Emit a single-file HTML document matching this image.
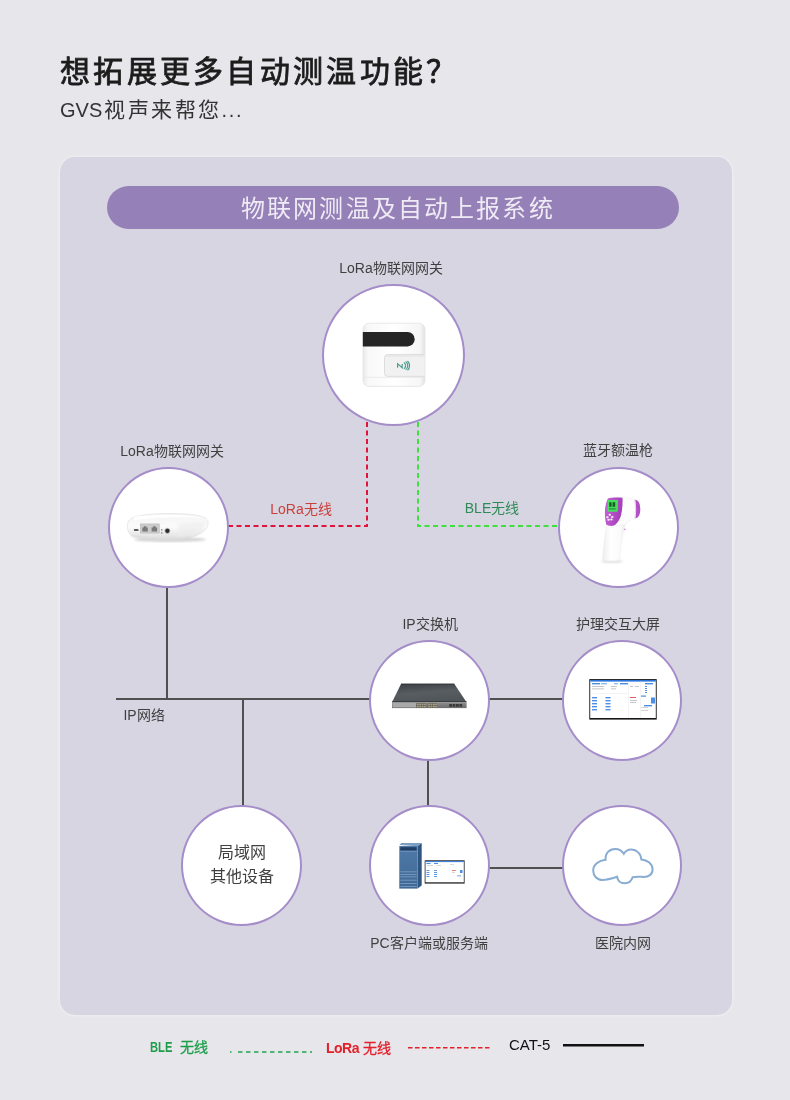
<!DOCTYPE html>
<html lang="zh-CN">
<head>
<meta charset="utf-8">
<style>
*{margin:0;padding:0;box-sizing:border-box}
html,body{width:790px;height:1100px;overflow:hidden}
body{background:#e7e6eb;font-family:"Liberation Sans",sans-serif;color:#333;position:relative}
.a{position:absolute;white-space:nowrap}
body>div{will-change:transform}
#h1{left:60px;top:57px;font-size:30px;line-height:30px;letter-spacing:3.3px;color:#1c1c1c;-webkit-text-stroke:0.8px #1c1c1c}
#h2{left:60px;top:100px;font-size:20px;line-height:20px;color:#333}
#panel{left:60px;top:157px;width:672px;height:858px;border-radius:15px;background:#d8d5e2;box-shadow:0 0 3px 1px rgba(255,255,255,0.35)}
#bar{left:107px;top:186px;width:572px;height:43px;border-radius:22px;background:#9581b8}
#bart{left:241px;top:197px;font-size:24px;line-height:24px;letter-spacing:2.14px;color:#efebf5}
.c{position:absolute;border-radius:50%;background:#fff;border:2px solid #a58dca}
.lb{position:absolute;font-size:14px;line-height:14px;color:#404040;white-space:nowrap;width:200px;text-align:center}
.lg{font-size:14px;line-height:14px}
</style>
</head>
<body>
<div class="a" id="h1">想拓展更多自动测温功能？</div>
<div class="a" id="h2"><span>GVS</span><span style="letter-spacing:2.5px;margin-left:1.8px;font-size:21px">视声来帮您</span><span style="letter-spacing:1.7px">...</span></div>
<div class="a" id="panel"></div>
<div class="a" id="bar"></div>
<div class="a" id="bart">物联网测温及自动上报系统</div>

<!-- lines -->
<svg class="a" style="left:0;top:0" width="790" height="1100">
  <path d="M367 422 V526 H228" fill="none" stroke="#e0133a" stroke-width="2" stroke-dasharray="5 3.5"/>
  <path d="M418 422 V526 H558" fill="none" stroke="#3ee03e" stroke-width="2" stroke-dasharray="5 3.5"/>
  <g stroke="#505050" stroke-width="2" fill="none">
    <path d="M167 588 V699"/>
    <path d="M116 699 H370"/>
    <path d="M489 699 H562"/>
    <path d="M243 699 V806"/>
    <path d="M428 760 V806"/>
    <path d="M489 868 H563"/>
  </g>
</svg>

<!-- circles -->
<div class="c" style="left:322px;top:284.3px;width:142.6px;height:142px"></div>
<div class="c" style="left:107.8px;top:467.2px;width:120.6px;height:120.8px"></div>
<div class="c" style="left:557.8px;top:467.2px;width:120.6px;height:120.8px"></div>
<div class="c" style="left:368.9px;top:639.8px;width:120.9px;height:120.8px"></div>
<div class="c" style="left:562.2px;top:639.8px;width:120.3px;height:120.8px"></div>
<div class="c" style="left:181.3px;top:804.8px;width:120.7px;height:120.8px"></div>
<div class="c" style="left:368.9px;top:804.8px;width:120.7px;height:120.8px"></div>
<div class="c" style="left:562.2px;top:804.8px;width:120.3px;height:120.8px"></div>

<!-- icons -->
<svg class="a" style="left:0;top:0" width="790" height="1100">
<defs>
 <linearGradient id="gwb" x1="0" x2="1" y1="0" y2="0">
  <stop offset="0" stop-color="#e9e9e9"/><stop offset="0.08" stop-color="#f8f8f8"/><stop offset="0.5" stop-color="#ffffff"/><stop offset="0.92" stop-color="#f6f6f6"/><stop offset="1" stop-color="#e2e2e2"/>
 </linearGradient>
 <linearGradient id="puck" x1="0" x2="0" y1="0" y2="1">
  <stop offset="0" stop-color="#f4f4f4"/><stop offset="0.5" stop-color="#fbfbfb"/><stop offset="1" stop-color="#dcdcdc"/>
 </linearGradient>
 <linearGradient id="swt" x1="0" x2="0.3" y1="0" y2="1">
  <stop offset="0" stop-color="#3b3f44"/><stop offset="0.55" stop-color="#585d62"/><stop offset="1" stop-color="#50555a"/>
 </linearGradient>
 <linearGradient id="swf" x1="0" x2="0" y1="0" y2="1">
  <stop offset="0" stop-color="#8e8e8e"/><stop offset="1" stop-color="#6c6c6c"/>
 </linearGradient>
 <linearGradient id="srv" x1="0" x2="0" y1="0" y2="1">
  <stop offset="0" stop-color="#4f79a8"/><stop offset="1" stop-color="#3f6894"/>
 </linearGradient>
 <linearGradient id="thh" x1="0" x2="1" y1="0" y2="0">
  <stop offset="0" stop-color="#eeeeee"/><stop offset="0.35" stop-color="#ffffff"/><stop offset="0.8" stop-color="#fafafa"/><stop offset="1" stop-color="#e6e6e6"/>
 </linearGradient>
 <linearGradient id="thp" x1="0" x2="1" y1="0" y2="0.2">
  <stop offset="0" stop-color="#c266d3"/><stop offset="0.5" stop-color="#b650c8"/><stop offset="1" stop-color="#a43eb8"/>
 </linearGradient>
 <filter id="blur1"><feGaussianBlur stdDeviation="1.2"/></filter>
</defs>

<!-- top gateway -->
<g>
 <rect x="363" y="323.2" width="62" height="63.2" rx="6" fill="url(#gwb)" stroke="#e4e4e4" stroke-width="0.8"/>
 <path d="M362.8 332 H407.5 A7.2 7.2 0 0 1 407.5 346.4 H362.8 Z" fill="#252525"/>
 <path d="M424.6 354.6 H387.5 Q384.5 354.6 384.5 357.6 V373.4 Q384.5 376.4 387.5 376.4 H424.6" fill="#f1f1f1" stroke="#d9d9d9" stroke-width="0.9"/>
 <path d="M386 357 Q386 356 387.5 356 H424" stroke="#e2e2e2" stroke-width="1" fill="none"/>
 <path d="M363.5 377.3 H424.5" stroke="#e6e6e6" stroke-width="0.8"/>
 <g stroke="#4b9f8f" fill="none" stroke-width="1.2">
  <path d="M397.6 367.8 V363.9 L402.2 367.8 V363.9"/>
  <path d="M403.8 362.6 A3.6 3.6 0 0 1 403.8 368.8"/>
  <path d="M405.6 361.6 A5 5 0 0 1 405.6 369.8"/>
  <path d="M407.5 361 A6.4 6.4 0 0 1 407.5 370.4"/>
 </g>
</g>

<!-- left puck gateway -->
<g>
 <ellipse cx="170" cy="539.5" rx="36" ry="2.5" fill="#d4d4d4" filter="url(#blur1)"/>
 <path d="M128.5 521 C 131 515.5, 150 513.4, 172 513.5 C 192 513.7, 205 515.5, 207.8 520.5 C 209.5 526.5, 204.5 532.5, 196 535.8 C 188 538.8, 178 540, 168 540 C 152 540, 138 538.6, 131.5 535.5 C 127 532.5, 126.5 525, 128.5 521 Z" fill="url(#puck)" stroke="#dedede" stroke-width="0.6"/>
 <path d="M134 517 C 150 514.3, 188 514.4, 204 518 C 196 517.4, 186 517.2, 176 517.3 C 160 517.5, 145 518.5, 134 520.5 Z" fill="#ffffff"/>
 <path d="M178 524 C 188 522.5, 199 521.5, 206 522 C 205 528, 199 533, 192 535.5 C 186 537.5, 180 538.2, 176 538.2 C 178.5 534, 179 528, 178 524 Z" fill="#ececec" opacity="0.6" filter="url(#blur1)"/>
 <path d="M131 536 C 145 539, 170 540, 190 537.5" stroke="#d2d2d2" stroke-width="1" fill="none" filter="url(#blur1)"/>
 <rect x="140.3" y="523.9" width="19" height="9.2" fill="#cbcbcb" stroke="#b5b5b5" stroke-width="0.5"/>
 <path d="M142.3 531.6 V527.6 H143.8 V526.3 H146.3 V527.6 H147.8 V531.6 Z" fill="#7a7a7a"/>
 <path d="M151.6 531.6 V527.6 H153.1 V526.3 H155.6 V527.6 H157.1 V531.6 Z" fill="#7a7a7a"/>
 <rect x="133.8" y="529" width="4.8" height="1.9" rx="0.9" fill="#5a5a5a"/>
 <rect x="161" y="529.2" width="1.5" height="1.4" fill="#8a8a8a"/>
 <rect x="161" y="532.2" width="1.5" height="1.4" fill="#8a8a8a"/>
 <circle cx="167.4" cy="530.8" r="2.6" fill="#2e2e2e" stroke="#c9c9c9" stroke-width="0.8"/>
</g>

<!-- thermometer -->
<g>
 <ellipse cx="612" cy="561.5" rx="11" ry="1.6" fill="#e2e2e2" filter="url(#blur1)"/>
 <path d="M607.5 522 L625.5 523 C 622.5 533, 620.5 545, 619.8 560.2 C 614 561.3, 607 561.3, 602.6 560.3 C 603.3 548, 604.5 535, 607.5 522 Z" fill="url(#thh)" stroke="#e8e8e8" stroke-width="0.5"/>
 <path d="M606 520 C 607 510, 608 502, 610 497.8 C 616 496.6, 626 497, 634.5 499.5 C 636 505, 636.2 512, 635.4 518.4 C 631 519.5, 627 521.5, 624.5 525 L 612 526 Z" fill="#fdfdfd" stroke="#ebebeb" stroke-width="0.5"/>
 <path d="M635.2 499.7 C 638.2 500, 640.2 503, 640.3 509 C 640.3 514.5, 638.7 517.8, 635.4 518.4 C 636.4 512, 636.4 505.5, 635.2 499.7 Z" fill="#b24ec6"/>
 <path d="M634.6 499.6 C 635.6 505, 635.8 512, 634.9 518.3" stroke="#e9c4ef" stroke-width="0.8" fill="none"/>
 <path d="M607.9 498.4 C 612 497.3, 618 497.2, 622.5 497.8 C 622.8 504, 622.2 510, 621 515.3 C 619.5 520.5, 616.5 524.8, 613.1 525.8 C 610.5 526.2, 607.5 525.6, 606.2 524.6 C 605 520, 604.8 514, 605 509.5 C 605.5 505, 606.5 501, 607.9 498.4 Z" fill="url(#thp)"/>
 <path d="M607.7 499.9 H618 L617.8 510.4 Q617.7 511.8 616.4 511.8 H608.6 Q607.3 511.8 607.3 510.4 Z" fill="#44e05e"/>
 <rect x="609.2" y="502.2" width="2.4" height="4.6" fill="#1f5a2a"/>
 <rect x="612.6" y="502.2" width="2.6" height="4.6" fill="#1f5a2a"/>
 <rect x="609" y="508.4" width="6.8" height="1" fill="#2b7a3a"/>
 <g fill="#f6eef8">
  <ellipse cx="609.8" cy="514.7" rx="1.3" ry="1"/>
  <ellipse cx="607.4" cy="517.2" rx="1.3" ry="1"/><ellipse cx="612.3" cy="517.1" rx="1.3" ry="1"/>
  <ellipse cx="608.6" cy="519.7" rx="1.3" ry="1"/><ellipse cx="611.4" cy="519.6" rx="1.2" ry="1"/>
 </g>
 <circle cx="624.8" cy="529.4" r="0.8" fill="#c88ad6"/>
</g>

<!-- switch -->
<g>
 <path d="M401 684 H454.4 L466.6 702.3 H392 Z" fill="url(#swt)"/>
 <path d="M401 684 H454.4" stroke="#2c3034" stroke-width="0.9"/>
 <path d="M392.2 701.6 H466.4" stroke="#3a3d40" stroke-width="1.2"/>
 <rect x="392" y="702.3" width="74.6" height="5.8" fill="url(#swf)"/>
 <rect x="392.6" y="703" width="23.6" height="4.4" fill="#a9a9a9"/>
 <rect x="416.4" y="703.2" width="9.6" height="4.6" fill="#5f5a4c"/>
 <rect x="427.8" y="703.2" width="9.2" height="4.6" fill="#5f5a4c"/>
 <g fill="#aaa38e">
  <rect x="416.9" y="703.6" width="1.8" height="1.6"/><rect x="419.3" y="703.6" width="1.8" height="1.6"/><rect x="421.7" y="703.6" width="1.8" height="1.6"/><rect x="424.1" y="703.6" width="1.6" height="1.6"/>
  <rect x="416.9" y="705.8" width="1.8" height="1.6"/><rect x="419.3" y="705.8" width="1.8" height="1.6"/><rect x="421.7" y="705.8" width="1.8" height="1.6"/><rect x="424.1" y="705.8" width="1.6" height="1.6"/>
  <rect x="428.2" y="703.6" width="1.8" height="1.6"/><rect x="430.6" y="703.6" width="1.8" height="1.6"/><rect x="433" y="703.6" width="1.8" height="1.6"/><rect x="435.2" y="703.6" width="1.6" height="1.6"/>
  <rect x="428.2" y="705.8" width="1.8" height="1.6"/><rect x="430.6" y="705.8" width="1.8" height="1.6"/><rect x="433" y="705.8" width="1.8" height="1.6"/><rect x="435.2" y="705.8" width="1.6" height="1.6"/>
 </g>
 <g fill="#3a3a3a">
  <rect x="449.2" y="704" width="2.8" height="2.8"/><rect x="452.6" y="704" width="2.8" height="2.8"/>
  <rect x="456" y="704" width="2.8" height="2.8"/><rect x="459.4" y="704" width="2.8" height="2.8"/>
 </g>
</g>

<!-- nurse screen -->
<g>
 <rect x="589.3" y="679.1" width="67.4" height="40.5" fill="#161616"/>
 <rect x="590.2" y="680" width="65.6" height="38" fill="#ffffff"/>
 <rect x="590.2" y="680" width="65.6" height="1.6" fill="#2b74da"/>
 <g fill="#4a8ee6">
  <rect x="592" y="683" width="8" height="1.4"/><rect x="601" y="683" width="6" height="1.4" opacity="0.6"/>
  <rect x="614" y="683" width="4" height="1.4" opacity="0.6"/><rect x="620" y="683" width="8" height="1.4"/>
  <rect x="645" y="683" width="8" height="1.4"/>
  <rect x="592" y="697" width="5" height="1.4"/><rect x="605.5" y="697" width="5" height="1.4"/>
  <rect x="592" y="700" width="5" height="1.4"/><rect x="605.5" y="700" width="5" height="1.4"/>
  <rect x="592" y="703" width="5" height="1.4"/><rect x="605.5" y="703" width="5" height="1.4"/>
  <rect x="592" y="706" width="5" height="1.4"/><rect x="605.5" y="706" width="5" height="1.4"/>
  <rect x="592" y="709" width="5" height="1.4"/><rect x="605.5" y="709" width="5" height="1.4"/>
  <rect x="641" y="695.5" width="5" height="1.2"/><rect x="651" y="697.5" width="4" height="6"/>
  <rect x="644" y="705" width="8" height="1.4"/>
  <rect x="645" y="686" width="2" height="1"/><rect x="645" y="688" width="2" height="1"/><rect x="645" y="690" width="2" height="1"/><rect x="645" y="692" width="2" height="1"/>
 </g>
 <g fill="#b8b8b8">
  <rect x="592" y="686" width="12" height="0.8"/><rect x="592" y="688.5" width="12" height="0.8"/>
  <rect x="611" y="686" width="6" height="0.8"/><rect x="611" y="688.5" width="5" height="0.8"/>
  <rect x="630" y="686" width="3" height="0.8"/><rect x="635" y="686" width="4" height="0.8"/>
  <rect x="630" y="700" width="7" height="0.8"/><rect x="630" y="702" width="6" height="0.8"/>
  <rect x="641" y="707" width="7" height="0.6"/><rect x="641" y="710" width="7" height="0.6"/>
 </g>
 <rect x="630" y="697" width="6" height="0.9" fill="#e05050"/>
 <g fill="#e8e8e8"><rect x="628.5" y="681.6" width="0.5" height="36"/><rect x="640" y="681.6" width="0.5" height="36"/><rect x="591" y="693.5" width="37" height="0.5"/></g>
</g>

<!-- PC -->
<g>
 <path d="M399.3 845 L401.4 842.9 H421.7 L417.6 846.2 Z" fill="#7c9fc4"/>
 <path d="M417.6 846.2 L421.7 842.9 V885.5 L417.6 888.6 Z" fill="#2f5680"/>
 <rect x="399.3" y="846" width="18.3" height="42.6" fill="url(#srv)"/>
 <rect x="400.3" y="847.2" width="16.3" height="3.2" fill="#1f3f66"/>
 <rect x="400.3" y="851.2" width="16.3" height="0.6" fill="#7ea0c6"/>
 <g fill="#86a8cc">
  <rect x="400.3" y="871.5" width="16.3" height="0.7"/><rect x="400.3" y="874" width="16.3" height="0.7"/>
  <rect x="400.3" y="876.5" width="16.3" height="0.7"/><rect x="400.3" y="879.8" width="16.3" height="0.7"/>
  <rect x="400.3" y="883" width="16.3" height="0.7"/><rect x="400.3" y="886" width="16.3" height="0.7"/>
 </g>
 <rect x="424.7" y="860.3" width="39.9" height="23.3" fill="#222"/>
 <rect x="425.5" y="861.1" width="38.3" height="21.2" fill="#ffffff"/>
 <rect x="425.5" y="861.1" width="38.3" height="1" fill="#2b74da"/>
 <g fill="#4a8ee6">
  <rect x="426.5" y="863" width="4" height="1"/><rect x="434" y="863" width="4" height="1"/>
  <rect x="426.5" y="870" width="3" height="0.9"/><rect x="434" y="870" width="3" height="0.9"/>
  <rect x="426.5" y="872" width="3" height="0.9"/><rect x="434" y="872" width="3" height="0.9"/>
  <rect x="426.5" y="874" width="3" height="0.9"/><rect x="434" y="874" width="3" height="0.9"/>
  <rect x="426.5" y="876" width="3" height="0.9"/><rect x="434" y="876" width="3" height="0.9"/>
  <rect x="460" y="870" width="2.5" height="3"/><rect x="457" y="875.5" width="4" height="0.8"/>
 </g>
 <rect x="452" y="870" width="4" height="0.7" fill="#e05050"/>
 <g fill="#bbb"><rect x="427" y="865" width="6" height="0.6"/><rect x="437" y="865" width="4" height="0.6"/><rect x="450" y="864" width="4" height="0.6"/><rect x="452" y="872" width="3" height="0.6"/></g>
</g>

<!-- cloud -->
<path d="M605.6 859.8 C 605 853, 609.5 849, 615.2 849 C 619 849, 622 851, 623.8 853.8 C 625.5 851, 628.5 849.5, 631.5 849.6 C 636.5 849.8, 641 853.5, 641.3 859.4 C 647.5 860, 652.6 864, 652.6 869.4 C 652.6 874.5, 648.5 877, 643.5 876.9 C 639.5 876.8, 636 876.5, 632.6 877.2 C 631.5 881, 628.5 883.2, 624.6 883.2 C 620.5 883.2, 617.7 880.5, 617.1 876.8 C 612 878.5, 607 880, 602.5 880 C 597 880, 593.2 875.8, 593.2 870.4 C 593.2 864.5, 598.5 860.5, 605.6 859.8 Z" fill="#fff" stroke="#89acd2" stroke-width="2"/>
</svg>

<!-- labels -->
<div class="lb" style="left:291.4px;top:260.5px;">LoRa物联网网关</div>
<div class="lb" style="left:72.4px;top:444.1px;">LoRa物联网网关</div>
<div class="lb" style="left:518.2px;top:443.1px;">蓝牙额温枪</div>
<div class="lb" style="left:201.0px;top:502.0px;color:#c8403a;">LoRa无线</div>
<div class="lb" style="left:392.0px;top:500.8px;color:#2e8b57;">BLE无线</div>
<div class="lb" style="left:330.2px;top:617.0px;">IP交换机</div>
<div class="lb" style="left:518.0px;top:616.6px;">护理交互大屏</div>
<div class="lb" style="left:43.5px;top:708.2px;">IP网络</div>
<div class="lb" style="left:329.2px;top:935.9px;">PC客户端或服务端</div>
<div class="lb" style="left:523.0px;top:936.1px;">医院内网</div>
<div class="lb" style="left:142.3px;top:840.7px;font-size:16px;line-height:24px">局域网<br>其他设备</div>
<!-- legend -->
<div class="a lg" style="left:150px;top:1040px;color:#1e9e4a;font-weight:bold"><span style="display:inline-block;transform:scaleX(0.8);transform-origin:0 0;width:22px">BLE</span><span style="margin-left:8px;-webkit-text-stroke:0.3px #1e9e4a;font-weight:normal">无线</span></div>
<div class="a lg" style="left:326px;top:1041px;color:#e3202a;font-weight:bold"><span style="letter-spacing:-0.5px">LoRa</span><span style="margin-left:4px;-webkit-text-stroke:0.3px #e3202a;font-weight:normal">无线</span></div>
<div class="a lg" style="left:509px;top:1037px;color:#111;font-size:15px;line-height:15px">CAT-5</div>
<svg class="a" style="left:0;top:1030px" width="790" height="40">
  <path d="M230 22 H312" stroke="#22a550" stroke-width="1.5" stroke-dasharray="1.5 6.5 4.5 3.5 4.5 3.5 4.5 3.5 4.5 3.5 4.5 3.5 4.5 3.5 4.5 3.5 4.5 3.5 4.5 3.5 4.5 3.5"/>
  <path d="M408 17.8 H492" stroke="#e3202a" stroke-width="1.5" stroke-dasharray="4.5 2.5"/>
  <path d="M563 15.2 H644" stroke="#111" stroke-width="2.5"/>
</svg>
</body>
</html>
